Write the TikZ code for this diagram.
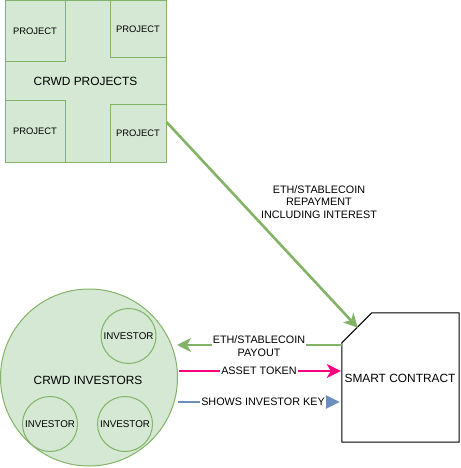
\documentclass[tikz,border=0pt]{standalone}
\usepackage{fontspec}
\setmainfont{Liberation Sans}
\usetikzlibrary{arrows.meta}
\definecolor{gfill}{HTML}{D5E8D4}
\definecolor{gline}{HTML}{82B366}
\definecolor{pinkc}{HTML}{FF0080}
\definecolor{bluec}{HTML}{6C8EBF}
\tikzset{
  gbox/.style={draw=gline, fill=gfill, line width=1pt, inner sep=0pt, text=black},
  projbox/.style={gbox, font=\fontsize{9.4}{11}\selectfont},
  invcirc/.style={gbox, circle, font=\fontsize{9.8}{11}\selectfont},
  bigtext/.style={font=\fontsize{11.9}{14}\selectfont},
  elabel/.style={font=\fontsize{10.8}{12.5}\selectfont, align=center, inner sep=1pt},
  garrow/.style={draw=gline, line width=2.6pt, -{Stealth[length=14pt,width=14pt,inset=4pt]}},
  parrow/.style={draw=pinkc, line width=2.6pt, -{Stealth[length=14pt,width=14pt,inset=4pt]}},
  barrow/.style={draw=bluec, line width=2.6pt, -{Triangle[length=14pt,width=13pt]}},
}
\begin{document}
\begin{tikzpicture}[x=1pt,y=-1pt]
\useasboundingbox (0,0) rectangle (460,468);
% projects
\node[gbox, bigtext, minimum width=161pt, minimum height=161pt] (proj) at (85.5,81.5) {CRWD PROJECTS};
\node[projbox, minimum width=60pt, minimum height=61pt] (p1) at (35,31.5) {PROJECT};
\node[projbox, minimum width=56pt, minimum height=57pt] (p2) at (138,29.5) {PROJECT};
\node[projbox, minimum width=60pt, minimum height=61pt] (p3) at (35,131.5) {PROJECT};
\node[projbox, minimum width=56pt, minimum height=57pt] (p4) at (138,133.5) {PROJECT};
% investors
\node[gbox, circle, minimum size=177pt] (inv) at (89,377.5) {};
\node[bigtext] (invt) at (88,380) {CRWD INVESTORS};
\node[invcirc, minimum size=55pt] (i1) at (128.5,336) {INVESTOR};
\node[invcirc, minimum size=55pt] (i2) at (50,424) {INVESTOR};
\node[invcirc, minimum size=55pt] (i3) at (125,424) {INVESTOR};
% smart contract
\node[bigtext, minimum width=117pt, minimum height=129pt, inner sep=0pt] (sc) at (400.5,377.5) {};
\draw[fill=white, line width=1pt] ([xshift=30pt]sc.north west) -- (sc.north east) -- (sc.south east) -- (sc.south west) -- ([yshift=-30pt]sc.north west) -- cycle;
\node[bigtext] (sct) at (400,378) {SMART CONTRACT};
% free ends
\coordinate (gEnd) at (177,345);
\coordinate (pStart) at (179,371);
\coordinate (bStart) at (178,402);
% connectors
\draw[garrow] ([yshift=-40.5pt]proj.east) -- ([xshift=16pt,yshift=-15pt]sc.north west);
\node[elabel] (lrep) at (319,202) {ETH/STABLECOIN\\REPAYMENT\\INCLUDING INTEREST};
\draw[garrow] ([yshift=32.5pt]sc.west) -- (gEnd);
\node[elabel, fill=white] (lpay) at (259,346) {ETH/STABLECOIN\\PAYOUT};
\draw[parrow] (pStart) -- ([yshift=6.5pt,xshift=-1pt]sc.west);
\node[elabel, fill=white] (ltok) at (259,371) {ASSET TOKEN};
\draw[barrow] (bStart) -- ([yshift=-24.5pt,xshift=-2pt]sc.west);
\node[elabel, fill=white] (lkey) at (263,402) {SHOWS INVESTOR KEY};
\end{tikzpicture}
\end{document}
